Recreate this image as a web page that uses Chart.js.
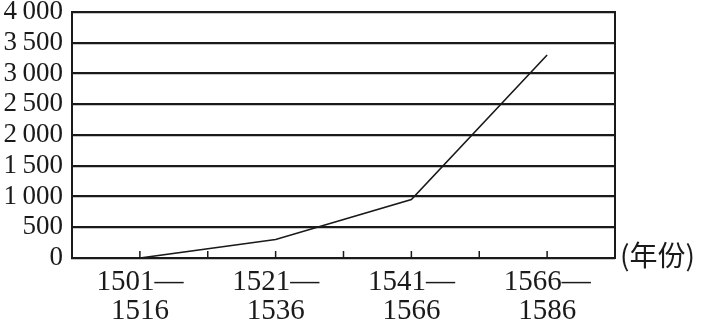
<!DOCTYPE html>
<html>
<head>
<meta charset="utf-8">
<script src="https://cdn.jsdelivr.net/npm/chart.js@4.4.0/dist/chart.umd.min.js"></script>
<style>
  html, body { margin: 0; padding: 0; background: #fff; }
  #wrap { width: 702px; height: 327px; }
</style>
</head>
<body>
<div id="wrap"><canvas id="myChart" width="702" height="327"></canvas></div>
<script>
// x categories: gaps at the ends and between the periods, so the periods fall on the tick marks
const periods = [
  "",
  ["1501\u2014", "1516"],
  "",
  ["1521\u2014", "1536"],
  "",
  ["1541\u2014", "1566"],
  "",
  ["1566\u2014", "1586"],
  "",
];
const values = [null, 0, null, 300, null, 950, null, 3300, null];
const yTickLabels = ["0", "500", "1\u2009000", "1\u2009500", "2\u2009000", "2\u2009500", "3\u2009000", "3\u2009500", "4\u2009000"];
const xUnit = "(年份)";

const INK = "#1a1a1a";

// frame, small upward ticks on the x axis, and the unit label
const framePlugin = {
  id: "frame",
  afterDraw(chart) {
    const { ctx, chartArea: a, scales } = chart;
    ctx.save();
    ctx.strokeStyle = INK;
    ctx.lineWidth = 2;
    ctx.strokeRect(a.left, a.top, a.right - a.left, a.bottom - a.top);
    ctx.lineWidth = 1.5;
    for (let i = 1; i < periods.length - 1; i++) {
      const x = scales.x.getPixelForValue(i);
      ctx.beginPath();
      ctx.moveTo(x, a.bottom);
      ctx.lineTo(x, a.bottom - 7);
      ctx.stroke();
    }
    ctx.fillStyle = INK;
    ctx.font = "400 28px 'Noto Sans CJK SC'";
    ctx.textAlign = "left";
    ctx.textBaseline = "middle";
    ctx.fillText(xUnit, a.right + 5, a.bottom - 3);
    ctx.restore();
  },
};

const ctx = document.getElementById("myChart").getContext("2d");
const myChart = new Chart(ctx, {
  type: "line",
  data: {
    labels: periods,
    datasets: [
      {
        data: values,
        borderColor: INK,
        borderWidth: 1.6,
        pointRadius: 0,
        spanGaps: true,
        tension: 0,
      },
    ],
  },
  options: {
    responsive: false,
    animation: false,
    layout: { padding: { top: 12, right: 87, left: 0, bottom: 0 } },
    plugins: { legend: { display: false }, tooltip: { enabled: false } },
    scales: {
      x: {
        offset: false,
        grid: { display: false, drawTicks: false },
        border: { display: true, color: INK, width: 2 },
        afterFit(scale) { scale.height = 69; },
        ticks: {
          autoSkip: false,
          maxRotation: 0,
          padding: 9,
          color: INK,
          font: { family: "'Liberation Serif'", size: 29, lineHeight: 1.03 },
        },
      },
      y: {
        min: 0,
        max: 4000,
        grid: { color: INK, lineWidth: 2.2, drawTicks: false },
        border: { display: true, color: INK, width: 2 },
        afterFit(scale) {
          scale.width = 72;
          scale.paddingTop = 0;
          scale.paddingBottom = 0;
        },
        ticks: {
          stepSize: 500,
          autoSkip: false,
          padding: 9,
          color: INK,
          font: { family: "'Liberation Serif'", size: 27 },
          callback: (v, i) => yTickLabels[i],
        },
      },
    },
  },
  plugins: [framePlugin],
});
</script>
</body>
</html>
